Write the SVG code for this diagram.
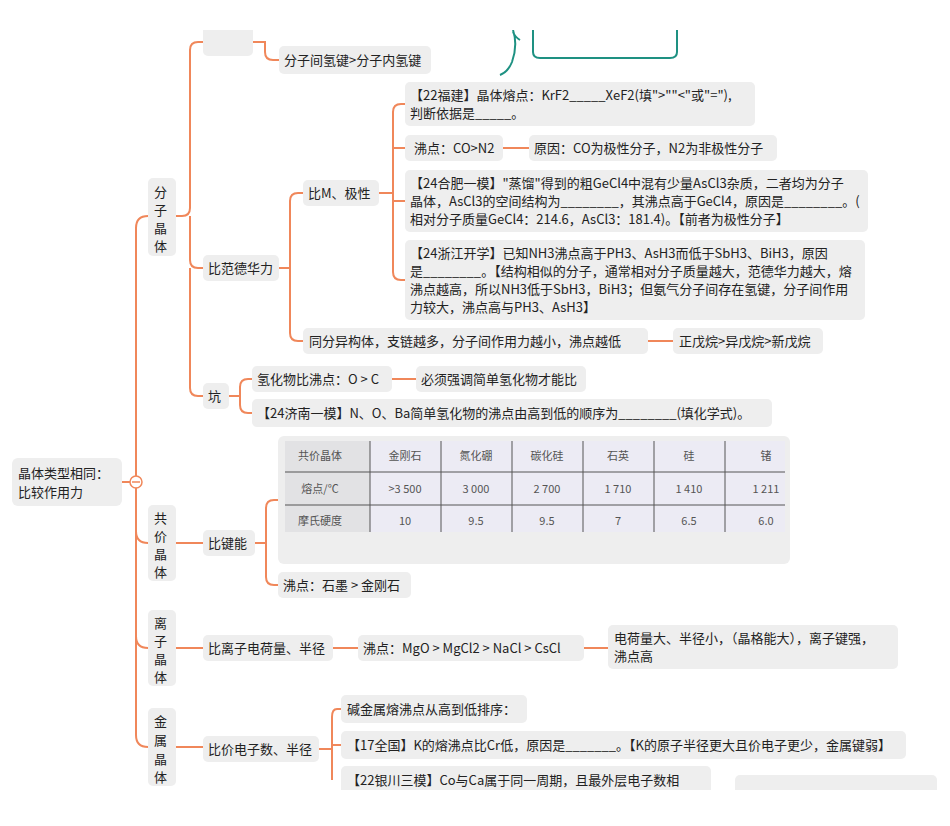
<svg xmlns="http://www.w3.org/2000/svg" width="950" height="826" viewBox="0 0 950 826">
<style>
.b{fill:#EEEEEE}
.t{font-family:"Noto Sans CJK SC","Noto Sans",sans-serif;font-size:13px;fill:#222}
.c{fill:none;stroke:#F0875A;stroke-width:2}
.tl{font-family:"Noto Sans CJK SC",serif;font-size:11px;fill:#555;text-anchor:middle}
.g{stroke:#555;stroke-width:1}
</style>
<defs><clipPath id="cp"><rect x="0" y="30" width="950" height="760"/></clipPath></defs>
<rect width="950" height="826" fill="#fff"/>
<g clip-path="url(#cp)">
<g id="connectors">
<path class="c" d="M122 482H136"/>
<path class="c" d="M136 482V228Q136 216 148 216 M136 482V531Q136 543 148 543 M136 482V636Q136 648 148 648 M136 482V735Q136 747 148 747"/>
<path class="c" d="M176 216H182Q190 216 190 208V50Q190 42 198 42H203 M190 216V260Q190 268 198 268H203 M190 268V388Q190 396 198 396H203"/>
<path class="c" d="M253 42H265V52Q265 60 273 60H279"/>
<path class="c" d="M279 268H290V201Q290 193 298 193H303 M290 268V333Q290 341 298 341H303"/>
<path class="c" d="M379 193H393V112Q393 104 401 104H405 M393 148H405 M393 201H405 M393 193V272Q393 280 401 280H405"/>
<path class="c" d="M503 148H529 M648 341H673"/>
<path class="c" d="M229 396H240V387Q240 379 248 379H252 M240 396V405Q240 413 248 413H252 M392 379H416"/>
<path class="c" d="M176 543H203 M255 543H266V508Q266 500 274 500H278 M266 543V577Q266 585 274 585H278"/>
<path class="c" d="M176 648H203 M333 648H358 M584 648H608"/>
<path class="c" d="M176 747H203 M319 749H332V717Q332 709 337 709H341 M332 745H341 M332 749V780"/>
<path d="M513 30Q518 45 512 62Q508 72 500 75 M513 32Q515 37 520 40" fill="none" stroke="#1E9182" stroke-width="2"/>
<path d="M533 30V52Q533 58 540 58H670Q677 58 677 52V30" fill="none" stroke="#1E9182" stroke-width="2"/>
</g>
<g id="root"><rect class="b" x="12" y="458" width="110" height="48" rx="6"/><text class="t" x="18" y="478">晶体类型相同：</text><text class="t" x="18" y="497">比较作用力</text>
<circle cx="136" cy="482" r="6" fill="#fff" stroke="#F0875A" stroke-width="1.5"/><path d="M132 482H140" stroke="#F0875A" stroke-width="1.5"/></g>
<g id="n-fz"><rect class="b" x="148" y="178" width="28" height="78" rx="5"/><text class="t" x="154" y="197">分</text><text class="t" x="154" y="215">子</text><text class="t" x="154" y="233">晶</text><text class="t" x="154" y="251">体</text></g>
<g id="n-gj"><rect class="b" x="148" y="505" width="28" height="76" rx="5"/><text class="t" x="154" y="523">共</text><text class="t" x="154" y="541">价</text><text class="t" x="154" y="559">晶</text><text class="t" x="154" y="577">体</text></g>
<g id="n-lz"><rect class="b" x="148" y="610" width="28" height="76" rx="5"/><text class="t" x="154" y="628">离</text><text class="t" x="154" y="646">子</text><text class="t" x="154" y="664">晶</text><text class="t" x="154" y="682">体</text></g>
<g id="n-js"><rect class="b" x="148" y="708" width="28" height="78" rx="5"/><text class="t" x="154" y="726">金</text><text class="t" x="154" y="745">属</text><text class="t" x="154" y="764">晶</text><text class="t" x="154" y="782">体</text></g>
<g id="n-top"><rect class="b" x="203" y="20" width="50" height="36" rx="5"/></g>
<g id="n-qj"><rect class="b" x="279" y="46" width="152" height="28" rx="5"/><text class="t" x="284" y="65">分子间氢键&gt;分子内氢键</text></g>
<g id="n-bfd"><rect class="b" x="203" y="255" width="76" height="26" rx="5"/><text class="t" x="208" y="273">比范德华力</text></g>
<g id="n-bm"><rect class="b" x="303" y="180" width="76" height="26" rx="5"/><text class="t" x="308" y="198">比M、极性</text></g>
<g id="n-fj"><rect class="b" x="405" y="82" width="350" height="44" rx="5"/><text class="t" x="410" y="100">【22福建】晶体熔点：KrF2_____XeF2(填"&gt;""&lt;"或"="),</text><text class="t" x="410" y="118">判断依据是_____。</text></g>
<g id="n-co"><rect class="b" x="405" y="135" width="98" height="26" rx="5"/><text class="t" x="414" y="153">沸点：CO&gt;N2</text></g>
<g id="n-yy"><rect class="b" x="529" y="135" width="248" height="26" rx="5"/><text class="t" x="534" y="153">原因：CO为极性分子，N2为非极性分子</text></g>
<g id="n-hf"><rect class="b" x="405" y="170" width="463" height="62" rx="5"/><text class="t" x="410" y="188">【24合肥一模】"蒸馏"得到的粗GeCl4中混有少量AsCl3杂质，二者均为分子</text><text class="t" x="410" y="206">晶体，AsCl3的空间结构为________，其沸点高于GeCl4，原因是________。(</text><text class="t" x="410" y="224">相对分子质量GeCl4：214.6，AsCl3：181.4)。【前者为极性分子】</text></g>
<g id="n-zj"><rect class="b" x="405" y="240" width="460" height="80" rx="5"/><text class="t" x="410" y="258">【24浙江开学】已知NH3沸点高于PH3、AsH3而低于SbH3、BiH3，原因</text><text class="t" x="410" y="276">是________。【结构相似的分子，通常相对分子质量越大，范德华力越大，熔</text><text class="t" x="410" y="294">沸点越高，所以NH3低于SbH3，BiH3；但氨气分子间存在氢键，分子间作用</text><text class="t" x="410" y="312">力较大，沸点高与PH3、AsH3】</text></g>
<g id="n-tf"><rect class="b" x="303" y="328" width="345" height="26" rx="5"/><text class="t" x="309" y="346">同分异构体，支链越多，分子间作用力越小，沸点越低</text></g>
<g id="n-wz"><rect class="b" x="673" y="328" width="150" height="26" rx="5"/><text class="t" x="679" y="346">正戊烷&gt;异戊烷&gt;新戊烷</text></g>
<g id="n-keng"><rect class="b" x="203" y="383" width="26" height="26" rx="5"/><text class="t" x="208" y="401">坑</text></g>
<g id="n-qh"><rect class="b" x="252" y="366" width="140" height="26" rx="5"/><text class="t" x="257" y="384">氢化物比沸点：O &gt; C</text></g>
<g id="n-bx"><rect class="b" x="416" y="366" width="170" height="26" rx="5"/><text class="t" x="421" y="384">必须强调简单氢化物才能比</text></g>
<g id="n-jn"><rect class="b" x="252" y="399" width="520" height="28" rx="5"/><text class="t" x="257" y="418">【24济南一模】N、O、Ba简单氢化物的沸点由高到低的顺序为________(填化学式)。</text></g>
<g id="n-bjn"><rect class="b" x="203" y="530" width="52" height="26" rx="5"/><text class="t" x="208" y="548">比键能</text></g>
<g id="n-table"><rect class="b" x="278" y="436" width="512" height="128" rx="6"/>
<rect x="285" y="441" width="500" height="91" fill="#ECEBF4"/><rect x="285" y="441" width="85" height="91" fill="#E2E2E4"/>
<path class="g" d="M285 472H785M285 505H785M370 441V532M441 441V532M512 441V532M583 441V532M654 441V532M725 441V532"/>
<text class="tl" x="320" y="460">共价晶体</text><text class="tl" x="405" y="460">金刚石</text><text class="tl" x="476" y="460">氮化硼</text><text class="tl" x="547" y="460">碳化硅</text><text class="tl" x="618" y="460">石英</text><text class="tl" x="689" y="460">硅</text><text class="tl" x="766" y="460">锗</text>
<text class="tl" x="320" y="493">熔点/℃</text><text class="tl" x="405" y="493">&gt;3 500</text><text class="tl" x="476" y="493">3 000</text><text class="tl" x="547" y="493">2 700</text><text class="tl" x="618" y="493">1 710</text><text class="tl" x="689" y="493">1 410</text><text class="tl" x="766" y="493">1 211</text>
<text class="tl" x="320" y="525">摩氏硬度</text><text class="tl" x="405" y="525">10</text><text class="tl" x="476" y="525">9.5</text><text class="tl" x="547" y="525">9.5</text><text class="tl" x="618" y="525">7</text><text class="tl" x="689" y="525">6.5</text><text class="tl" x="766" y="525">6.0</text></g>
<g id="n-sm"><rect class="b" x="278" y="572" width="133" height="26" rx="5"/><text class="t" x="283" y="590">沸点：石墨 &gt; 金刚石</text></g>
<g id="n-blz"><rect class="b" x="203" y="635" width="130" height="26" rx="5"/><text class="t" x="208" y="653">比离子电荷量、半径</text></g>
<g id="n-mgo"><rect class="b" x="358" y="635" width="226" height="26" rx="5"/><text class="t" x="363" y="653">沸点：MgO &gt; MgCl2 &gt; NaCl &gt; CsCl</text></g>
<g id="n-dh"><rect class="b" x="608" y="625" width="290" height="44" rx="5"/><text class="t" x="614" y="643">电荷量大、半径小，（晶格能大），离子键强，</text><text class="t" x="614" y="661">沸点高</text></g>
<g id="n-bjd"><rect class="b" x="203" y="736" width="116" height="26" rx="5"/><text class="t" x="208" y="754">比价电子数、半径</text></g>
<g id="n-jjs"><rect class="b" x="341" y="695" width="186" height="28" rx="5"/><text class="t" x="347" y="714">碱金属熔沸点从高到低排序：</text></g>
<g id="n-qg"><rect class="b" x="341" y="731" width="565" height="28" rx="5"/><text class="t" x="347" y="750">【17全国】K的熔沸点比Cr低，原因是_______。【K的原子半径更大且价电子更少，金属键弱】</text></g>
<g id="n-yc"><rect class="b" x="341" y="766" width="370" height="30" rx="5"/><text class="t" x="347" y="785">【22银川三模】Co与Ca属于同一周期，且最外层电子数相</text></g>
<g id="n-x"><rect class="b" x="735" y="775" width="202" height="30" rx="5"/></g>
</g>
</svg>
